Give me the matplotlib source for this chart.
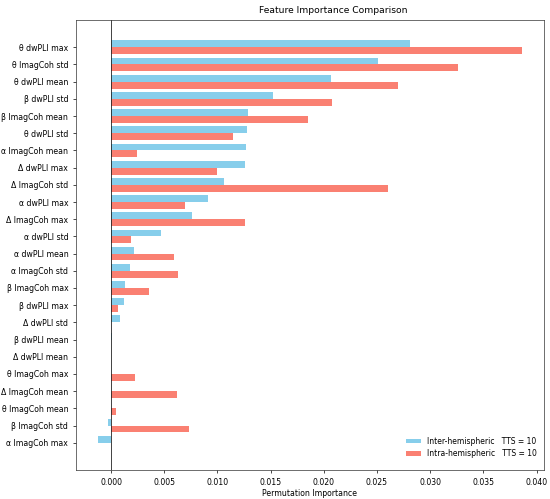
import matplotlib
matplotlib.use('Agg')
import matplotlib.pyplot as plt
import numpy as np

features = ['θ dwPLI max', 'θ ImagCoh std', 'θ dwPLI mean', 'β dwPLI std',
            'β ImagCoh mean', 'θ dwPLI std', 'α ImagCoh mean', 'Δ dwPLI max',
            'Δ ImagCoh std', 'α dwPLI max', 'Δ ImagCoh max', 'α dwPLI std',
            'α dwPLI mean', 'α ImagCoh std', 'β ImagCoh max', 'β dwPLI max',
            'Δ dwPLI std', 'β dwPLI mean', 'Δ dwPLI mean', 'θ ImagCoh max',
            'Δ ImagCoh mean', 'θ ImagCoh mean', 'β ImagCoh std', 'α ImagCoh max']

inter = [0.0281, 0.0251, 0.0207, 0.0152, 0.0129, 0.0128, 0.0127, 0.0126,
         0.0106, 0.0091, 0.0076, 0.0047, 0.0022, 0.0018, 0.0013, 0.0012,
         0.0008, 0.0001, 0.0, 0.0, 0.0, 0.0, -0.0003, -0.0012]

intra = [0.0386, 0.0326, 0.0270, 0.0208, 0.0185, 0.0115, 0.0024, 0.0100,
         0.0260, 0.0070, 0.0126, 0.0019, 0.0059, 0.0063, 0.0036, 0.0007,
         0.0, 0.0, 0.0, 0.0023, 0.0062, 0.0005, 0.0073, 0.0]

tts_inter = 10
tts_intra = 10

plt.rcParams['font.size'] = 5.6
plt.rcParams['axes.linewidth'] = 0.5
plt.rcParams['axes.edgecolor'] = '#333333'
plt.rcParams['xtick.major.width'] = 0.5
plt.rcParams['ytick.major.width'] = 0.5
plt.rcParams['xtick.major.size'] = 2
plt.rcParams['ytick.major.size'] = 2

fig = plt.figure(figsize=(5.5, 4.99), dpi=100)
ax = fig.add_axes([0.138, 0.058, 0.851, 0.902])

y = np.arange(len(features))
h = 0.4
ax.barh(y - h/2, inter, height=h, color='skyblue', label='Inter-hemispheric   TTS = %d' % tts_inter)
ax.barh(y + h/2, intra, height=h, color='salmon', label='Intra-hemispheric   TTS = %d' % tts_intra)
ax.axvline(0, color='#222222', linewidth=0.6)

ax.set_yticks(y)
ax.set_yticklabels(features)
ax.invert_yaxis()
ax.set_xlim(-0.0033, 0.0407)
ax.set_xticks(np.arange(0, 0.0401, 0.005))
ax.set_xlabel('Permutation Importance', labelpad=2)
ax.set_title('Feature Importance Comparison', fontsize=6.6, x=0.55, pad=5)
ax.legend(loc='lower right', bbox_to_anchor=(1.0, 0.012), frameon=False,
          fontsize=5.5, handlelength=2.0, handleheight=0.6, labelspacing=0.4)

plt.savefig('out.png', dpi=100)
